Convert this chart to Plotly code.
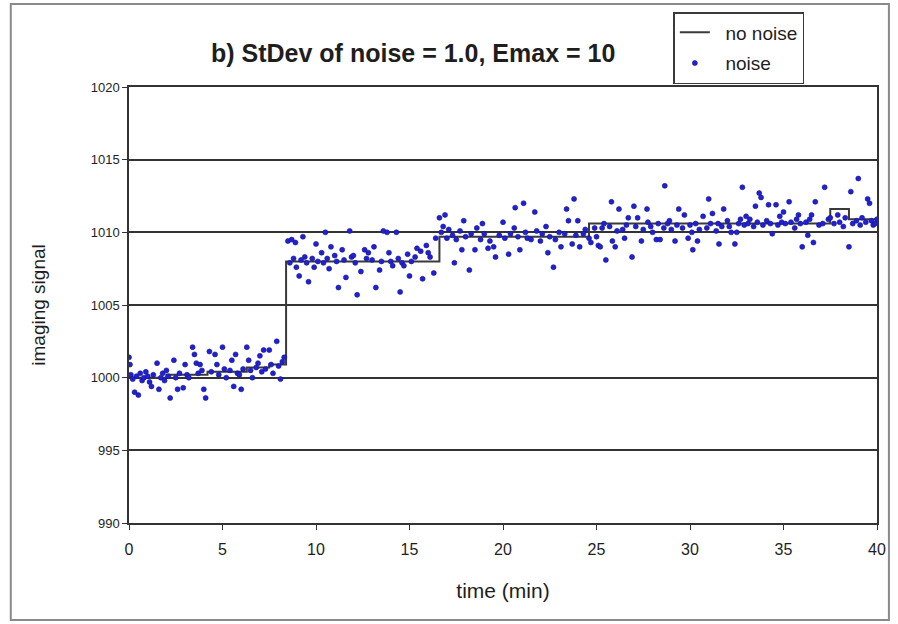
import plotly.graph_objects as go

# ---- data ----
step_time = [0, 2.0, 4.2, 6.3, 7.5, 8.4, 16.6, 24.6, 37.5, 38.5, 40]
step_signal = [1000.0, 1000.2, 1000.4, 1000.7, 1000.9, 1008.0, 1009.7, 1010.6, 1011.6, 1010.9, 1010.9]

noise_phase1 = [(0.0,1001.4),(0.05,1000.9),(0.1,1000.2),(0.2,999.9),(0.3,999.0),(0.4,1000.1),(0.5,998.8),(0.6,1000.3),
 (0.7,999.8),(0.8,1000.0),(0.9,1000.4),(1.0,1000.1),(1.1,999.7),(1.2,999.4),(1.3,1000.2),(1.5,1001.0),(1.6,999.2),
 (1.7,1000.0),(1.8,1000.3),(1.9,999.8),(2.0,1000.5),(2.1,1000.1),(2.2,998.6),(2.4,1001.2),(2.5,1000.0),(2.6,999.2),
 (2.7,1000.3),(2.9,999.3),(3.0,1000.9),(3.1,1000.2),(3.2,1000.0),(3.4,1002.1),(3.5,1001.6),(3.6,1001.0),(3.7,1000.3),
 (3.8,1000.9),(3.9,1000.5),(4.0,999.2),(4.1,998.6),(4.3,1001.8),(4.4,1000.4),(4.6,1001.6),(4.7,1000.9),(4.8,1000.2),
 (5.0,1002.1),(5.1,1000.6),(5.2,1000.0),(5.4,1000.5),(5.5,1001.2),(5.6,999.4),(5.7,1001.6),(5.8,1000.3),(5.9,1000.2),
 (6.0,999.2),(6.1,1000.6),(6.3,1002.1),(6.4,1001.2),(6.5,1000.5),(6.6,1000.0),(6.8,1000.7),(6.9,1001.0),(7.0,1001.5),
 (7.1,1000.4),(7.2,1001.9),(7.3,1000.6),(7.5,1001.9),(7.6,1000.9),(7.7,1000.3),(7.9,1002.5),(8.0,1000.8),(8.1,999.9),
 (8.2,1001.1),(8.3,1001.4)]

noise_phase2 = [(8.5,1009.4),(8.6,1007.9),(8.7,1009.5),(8.8,1008.2),(8.9,1009.3),(8.95,1007.6),(9.1,1007.0),(9.2,1008.1),
 (9.3,1009.7),(9.4,1008.3),(9.5,1007.9),(9.6,1006.6),(9.8,1008.2),(9.9,1007.6),(10.0,1009.2),(10.1,1008.0),(10.3,1008.6),
 (10.4,1007.9),(10.5,1010.0),(10.6,1008.2),(10.7,1007.5),(10.8,1009.0),(11.0,1008.4),(11.1,1008.0),(11.2,1006.2),
 (11.4,1008.8),(11.5,1008.1),(11.6,1006.9),(11.8,1010.1),(11.9,1008.3),(12.0,1008.4),(12.1,1007.9),(12.2,1005.7),
 (12.4,1007.3),(12.6,1008.8),(12.7,1008.2),(12.8,1008.6),(13.0,1008.1),(13.1,1009.0),(13.2,1006.2),(13.4,1007.4),
 (13.5,1008.0),(13.6,1010.1),(13.8,1010.0),(13.9,1008.6),(14.0,1008.0),(14.1,1007.7),(14.3,1010.0),(14.4,1008.2),
 (14.5,1005.9),(14.6,1007.9),(14.7,1007.7),(14.9,1008.5),(15.0,1007.0),(15.1,1008.0),(15.3,1008.3),(15.4,1008.9),
 (15.6,1008.7),(15.7,1006.8),(15.9,1009.1),(16.0,1008.6),(16.1,1008.3),(16.3,1007.2),(16.4,1009.6)]

noise_phase3 = [(16.6,1011.0),(16.7,1010.0),(16.8,1010.4),(16.9,1011.2),(17.0,1009.6),(17.1,1010.2),(17.3,1009.8),
 (17.4,1007.9),(17.5,1009.5),(17.7,1010.1),(17.8,1008.8),(17.9,1010.8),(18.0,1009.7),(18.2,1007.4),(18.3,1009.9),
 (18.5,1008.8),(18.6,1010.3),(18.8,1009.5),(18.9,1010.6),(19.0,1009.9),(19.2,1008.9),(19.3,1009.4),(19.5,1009.0),
 (19.6,1008.3),(19.8,1009.8),(20.0,1010.7),(20.1,1009.6),(20.3,1008.5),(20.4,1009.9),(20.6,1010.3),(20.65,1011.7),
 (20.8,1009.7),(20.9,1008.8),(21.1,1012.0),(21.2,1010.0),(21.3,1009.6),(21.5,1009.5),(21.7,1011.4),(21.8,1010.1),
 (22.0,1009.4),(22.1,1009.9),(22.3,1010.4),(22.4,1008.6),(22.5,1009.7),(22.7,1007.6),(22.8,1009.5),(23.0,1010.0),
 (23.1,1009.0),(23.3,1009.9),(23.4,1011.6),(23.5,1010.8),(23.7,1009.2),(23.8,1012.3),(23.9,1009.8),(24.0,1010.8),
 (24.1,1009.0),(24.3,1009.9),(24.4,1010.2),(24.6,1009.6),(24.7,1009.3)]

noise_phase4 = [(24.9,1010.3),(25.0,1009.7),(25.1,1009.1),(25.2,1009.0),(25.3,1010.3),(25.4,1010.6),(25.5,1008.1),
 (25.7,1010.4),(25.8,1012.1),(25.85,1009.4),(26.0,1009.0),(26.1,1010.1),(26.2,1011.6),(26.4,1010.2),(26.5,1009.6),
 (26.6,1010.5),(26.7,1011.0),(26.9,1008.3),(27.0,1011.8),(27.1,1010.4),(27.2,1011.0),(27.4,1009.4),(27.5,1010.2),
 (27.7,1011.6),(27.75,1010.7),(27.9,1010.4),(28.0,1010.0),(28.2,1009.5),(28.3,1010.6),(28.4,1009.5),(28.6,1010.3),
 (28.65,1013.2),(28.8,1010.6),(28.9,1010.8),(29.0,1010.2),(29.2,1009.4),(29.3,1010.5),(29.4,1011.6),(29.6,1010.3),
 (29.7,1011.2),(29.9,1009.6),(30.0,1010.5),(30.1,1010.0),(30.15,1008.8),(30.3,1010.6),(30.4,1009.4),(30.5,1010.2),
 (30.7,1011.1),(30.9,1010.3),(31.0,1012.3),(31.1,1010.6),(31.2,1011.3),(31.4,1010.1),(31.5,1010.6),(31.55,1009.2),
 (31.7,1010.4),(31.8,1011.6),(32.0,1010.8),(32.1,1010.4),(32.2,1010.0),(32.4,1009.2),(32.5,1010.0),(32.6,1010.6),
 (32.7,1010.9),(32.8,1013.1),(32.9,1010.5),(33.0,1011.1),(33.1,1010.6),(33.2,1010.9),(33.4,1010.4),(33.5,1011.8),
 (33.6,1010.7),(33.7,1012.7),(33.8,1012.4),(33.9,1010.5),(34.1,1010.8),(34.2,1011.9),(34.3,1010.6),(34.4,1009.9),
 (34.6,1011.9),(34.7,1010.5),(34.8,1011.1),(34.9,1010.7),(35.0,1011.4),(35.1,1010.6),(35.3,1012.1),(35.4,1010.7),
 (35.6,1010.3),(35.7,1010.9),(35.8,1011.2),(35.9,1010.6),(36.0,1009.0),(36.2,1010.7),(36.3,1009.8),(36.4,1010.9),
 (36.5,1011.2),(36.6,1009.3),(36.7,1012.1),(36.9,1010.5),(37.1,1010.6),(37.2,1013.1),(37.4,1010.9),(37.5,1011.0),
 (37.7,1010.6),(37.9,1011.2),(38.0,1010.7),(38.2,1010.4),(38.3,1011.0),(38.5,1009.0),(38.6,1012.8),(38.7,1010.6),
 (38.9,1010.8),(39.0,1013.7),(39.1,1010.5),(39.2,1011.0),(39.4,1010.7),(39.5,1012.3),(39.6,1012.0),(39.7,1010.8),
 (39.8,1010.5),(39.9,1010.6),(40.0,1010.9)]

x_ticks = [0, 5, 10, 15, 20, 25, 30, 35, 40]
y_ticks = [990, 995, 1000, 1005, 1010, 1015, 1020]

noise_points = noise_phase1 + noise_phase2 + noise_phase3 + noise_phase4
noise_time = [p[0] for p in noise_points]
noise_signal = [p[1] for p in noise_points]

FONT = "Liberation Sans, Arial, sans-serif"
TXT = "#1e1e1e"
NB = "\u00a0\u00a0"

fig = go.Figure()
fig.add_trace(go.Scatter(
    x=step_time, y=step_signal, mode="lines", name=NB + "no noise", legendgroup="a",
    line=dict(color="#3a3a3a", width=2, shape="hv")))
fig.add_trace(go.Scatter(
    x=noise_time, y=noise_signal, mode="markers", name=NB + "noise", legendgroup="b",
    marker=dict(color="#2020dc", size=5, symbol="circle",
                line=dict(color="#161678", width=0.6))))

W, H = 898, 624
L, R, T, B = 129, 16, 87, 101
pw, ph = W - L - R, H - T - B

def px(xp):
    return (xp - L) / pw

def py(yp):
    return (H - B - yp) / ph

fig.update_layout(
    width=W, height=H,
    margin=dict(l=L, r=R, t=T, b=B),
    paper_bgcolor="white", plot_bgcolor="white",
    font=dict(family=FONT, color=TXT, size=13),
    showlegend=True,
    legend=dict(x=px(677), y=py(12), xanchor="left", yanchor="top",
                bgcolor="white", bordercolor="#3a3a3a", borderwidth=1.5,
                font=dict(size=19, family=FONT, color=TXT),
                itemwidth=30, tracegroupgap=3),
    annotations=[dict(text="<b>b) StDev of noise = 1.0, Emax = 10</b>",
                      x=px(415), y=py(53), xref="paper", yref="paper",
                      xanchor="center", yanchor="middle",
                      showarrow=False, font=dict(size=25, family=FONT, color=TXT))],
    shapes=[dict(type="rect", xref="paper", yref="paper",
                 x0=px(10), x1=px(894), y0=py(620), y1=py(4),
                 line=dict(color="#8a8a8a", width=2), layer="below")],
)

fig.update_xaxes(range=[0, 40], tickvals=x_ticks, showgrid=False, zeroline=False,
                 showline=True, linecolor="#333", linewidth=1.5, mirror=True,
                 ticks="outside", ticklen=5, tickcolor="#333", ticklabelstandoff=6,
                 tickfont=dict(size=16, family=FONT, color=TXT),
                 title=dict(text="time (min)", font=dict(size=21, family=FONT, color=TXT), standoff=26))
fig.update_yaxes(range=[990, 1020], tickvals=y_ticks, showgrid=True, gridcolor="#333", gridwidth=1.6,
                 zeroline=False, showline=True, linecolor="#333", linewidth=1.5, mirror=True,
                 ticks="outside", ticklen=5, tickcolor="#333",
                 tickfont=dict(size=13, family=FONT, color=TXT),
                 title=dict(text="imaging signal", font=dict(size=19, family=FONT, color=TXT), standoff=40))

fig.write_html("out.html",
               config={"displayModeBar": False, "responsive": False},
               post_script="document.body.style.margin='0';document.body.style.overflow='hidden';")
